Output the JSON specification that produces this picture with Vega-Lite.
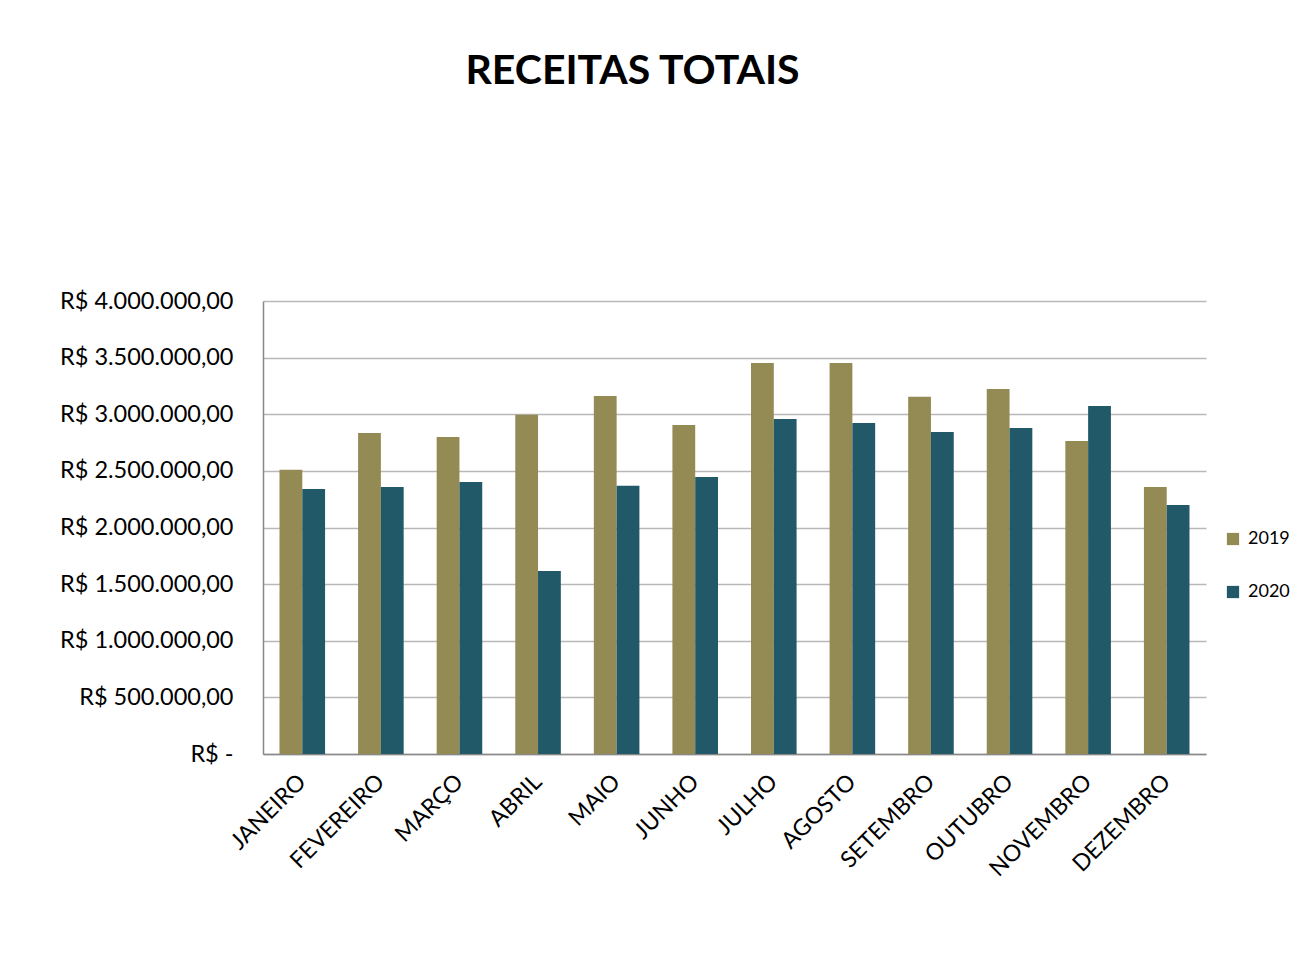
{
  "$schema": "https://vega.github.io/schema/vega-lite/v6.json",
  "width": 943,
  "height": 453,
  "autosize": {"type": "none"},
  "padding": {"left": 263, "top": 301, "right": 84, "bottom": 220},
  "background": "white",
  "title": {
    "text": "RECEITAS TOTAIS",
    "font": "Lato",
    "fontSize": 41,
    "fontWeight": "bold",
    "color": "#000000",
    "anchor": "middle",
    "offset": 196,
    "dx": -102
  },
  "config": {
    "locale": {
      "number": {"decimal": ",", "thousands": ".", "grouping": [3], "currency": ["R$ ", ""]}
    },
    "view": {"stroke": null},
    "font": "Lato"
  },
  "data": {
    "values": [
      {"mes": "JANEIRO", "ano": "2019", "valor": 2510000},
      {"mes": "JANEIRO", "ano": "2020", "valor": 2340000},
      {"mes": "FEVEREIRO", "ano": "2019", "valor": 2835000},
      {"mes": "FEVEREIRO", "ano": "2020", "valor": 2357000},
      {"mes": "MARÇO", "ano": "2019", "valor": 2800000},
      {"mes": "MARÇO", "ano": "2020", "valor": 2402000},
      {"mes": "ABRIL", "ano": "2019", "valor": 2995000},
      {"mes": "ABRIL", "ano": "2020", "valor": 1616000},
      {"mes": "MAIO", "ano": "2019", "valor": 3162000},
      {"mes": "MAIO", "ano": "2020", "valor": 2368000},
      {"mes": "JUNHO", "ano": "2019", "valor": 2905000},
      {"mes": "JUNHO", "ano": "2020", "valor": 2446000},
      {"mes": "JULHO", "ano": "2019", "valor": 3452000},
      {"mes": "JULHO", "ano": "2020", "valor": 2958000},
      {"mes": "AGOSTO", "ano": "2019", "valor": 3452000},
      {"mes": "AGOSTO", "ano": "2020", "valor": 2923000},
      {"mes": "SETEMBRO", "ano": "2019", "valor": 3155000},
      {"mes": "SETEMBRO", "ano": "2020", "valor": 2843000},
      {"mes": "OUTUBRO", "ano": "2019", "valor": 3223000},
      {"mes": "OUTUBRO", "ano": "2020", "valor": 2879000},
      {"mes": "NOVEMBRO", "ano": "2019", "valor": 2764000},
      {"mes": "NOVEMBRO", "ano": "2020", "valor": 3073000},
      {"mes": "DEZEMBRO", "ano": "2019", "valor": 2358000},
      {"mes": "DEZEMBRO", "ano": "2020", "valor": 2199000}
    ]
  },
  "mark": {"type": "bar"},
  "encoding": {
    "x": {
      "field": "mes",
      "type": "nominal",
      "sort": null,
      "scale": {"paddingInner": 0.42, "paddingOuter": 0.21},
      "axis": {
        "title": null,
        "labelAngle": -45,
        "labelAlign": "right",
        "labelBaseline": "middle",
        "labelFontSize": 23,
        "labelColor": "#000000",
        "labelPadding": 24,
        "ticks": false,
        "domainColor": "#888888",
        "domainWidth": 1.5
      }
    },
    "xOffset": {"field": "ano", "type": "nominal"},
    "y": {
      "field": "valor",
      "type": "quantitative",
      "scale": {"domain": [0, 4000000]},
      "axis": {
        "title": null,
        "values": [0, 500000, 1000000, 1500000, 2000000, 2500000, 3000000, 3500000, 4000000],
        "format": "$,.2f",
        "labelExpr": "datum.value == 0 ? 'R$ -\u00a0\u00a0\u00a0' : datum.label",
        "labelFontSize": 23.5,
        "labelColor": "#000000",
        "labelPadding": 30,
        "ticks": false,
        "gridColor": "#b8b8b8",
        "gridWidth": 1.5,
        "domainColor": "#888888",
        "domainWidth": 1.5
      }
    },
    "color": {
      "field": "ano",
      "type": "nominal",
      "scale": {"domain": ["2019", "2020"], "range": ["#948A54", "#215968"]},
      "legend": {
        "title": null,
        "orient": "none",
        "legendX": 961,
        "legendY": 229,
        "symbolType": "square",
        "symbolSize": 150,
        "symbolStrokeWidth": 0,
        "labelFontSize": 18,
        "labelColor": "#000000",
        "rowPadding": 35,
        "labelOffset": 6
      }
    }
  }
}
